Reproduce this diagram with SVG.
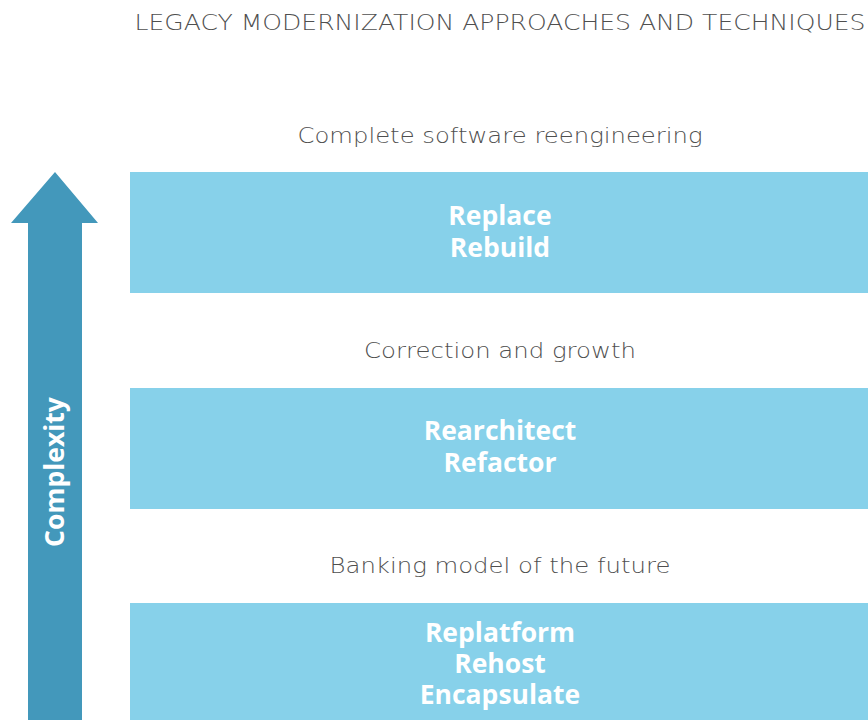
<svg xmlns="http://www.w3.org/2000/svg" width="868" height="720" viewBox="0 0 868 720">
<style>
.box{fill:#87D1EA}
.lbl{font-family:"Open Sans","Liberation Sans",sans-serif;font-weight:700;font-size:26.5px;fill:#FFFFFF;text-anchor:middle}
.sub{font-family:"DejaVu Sans","Liberation Sans",sans-serif;font-weight:200;font-size:21px;fill:#4F4F4F;text-anchor:middle}
.title{font-family:"DejaVu Sans","Liberation Sans",sans-serif;font-weight:200;font-size:21px;fill:#4F4F4F;text-anchor:middle}
</style>
<rect width="868" height="720" fill="#FFFFFF"/>
<text class="title" x="500" y="30" textLength="731" lengthAdjust="spacingAndGlyphs">LEGACY MODERNIZATION APPROACHES AND TECHNIQUES</text>
<g id="arrow">
<polygon points="55,172 98,223 82,223 82,720 28,720 28,223 11,223" fill="#4398BB"/>
<text x="64" y="472" transform="rotate(-90 64 472)" style="font-family:'Open Sans','Liberation Sans',sans-serif;font-weight:700;font-size:26.5px;fill:#FFFFFF;text-anchor:middle">Complexity</text>
</g>
<g id="level3">
<text class="sub" x="500" y="143" textLength="405" lengthAdjust="spacingAndGlyphs">Complete software reengineering</text>
<rect class="box" x="130" y="172" width="738" height="121"/>
<text class="lbl"><tspan x="500" y="225">Replace</tspan><tspan x="500" y="257">Rebuild</tspan></text>
</g>
<g id="level2">
<text class="sub" x="500" y="358" textLength="272" lengthAdjust="spacingAndGlyphs">Correction and growth</text>
<rect class="box" x="130" y="388" width="738" height="121"/>
<text class="lbl"><tspan x="500" y="440">Rearchitect</tspan><tspan x="500" y="472">Refactor</tspan></text>
</g>
<g id="level1">
<text class="sub" x="500" y="573" textLength="341" lengthAdjust="spacingAndGlyphs">Banking model of the future</text>
<rect class="box" x="130" y="603" width="738" height="117"/>
<text class="lbl"><tspan x="500" y="642">Replatform</tspan><tspan x="500" y="673">Rehost</tspan><tspan x="500" y="704">Encapsulate</tspan></text>
</g>
<g id="connectors"/>
</svg>
